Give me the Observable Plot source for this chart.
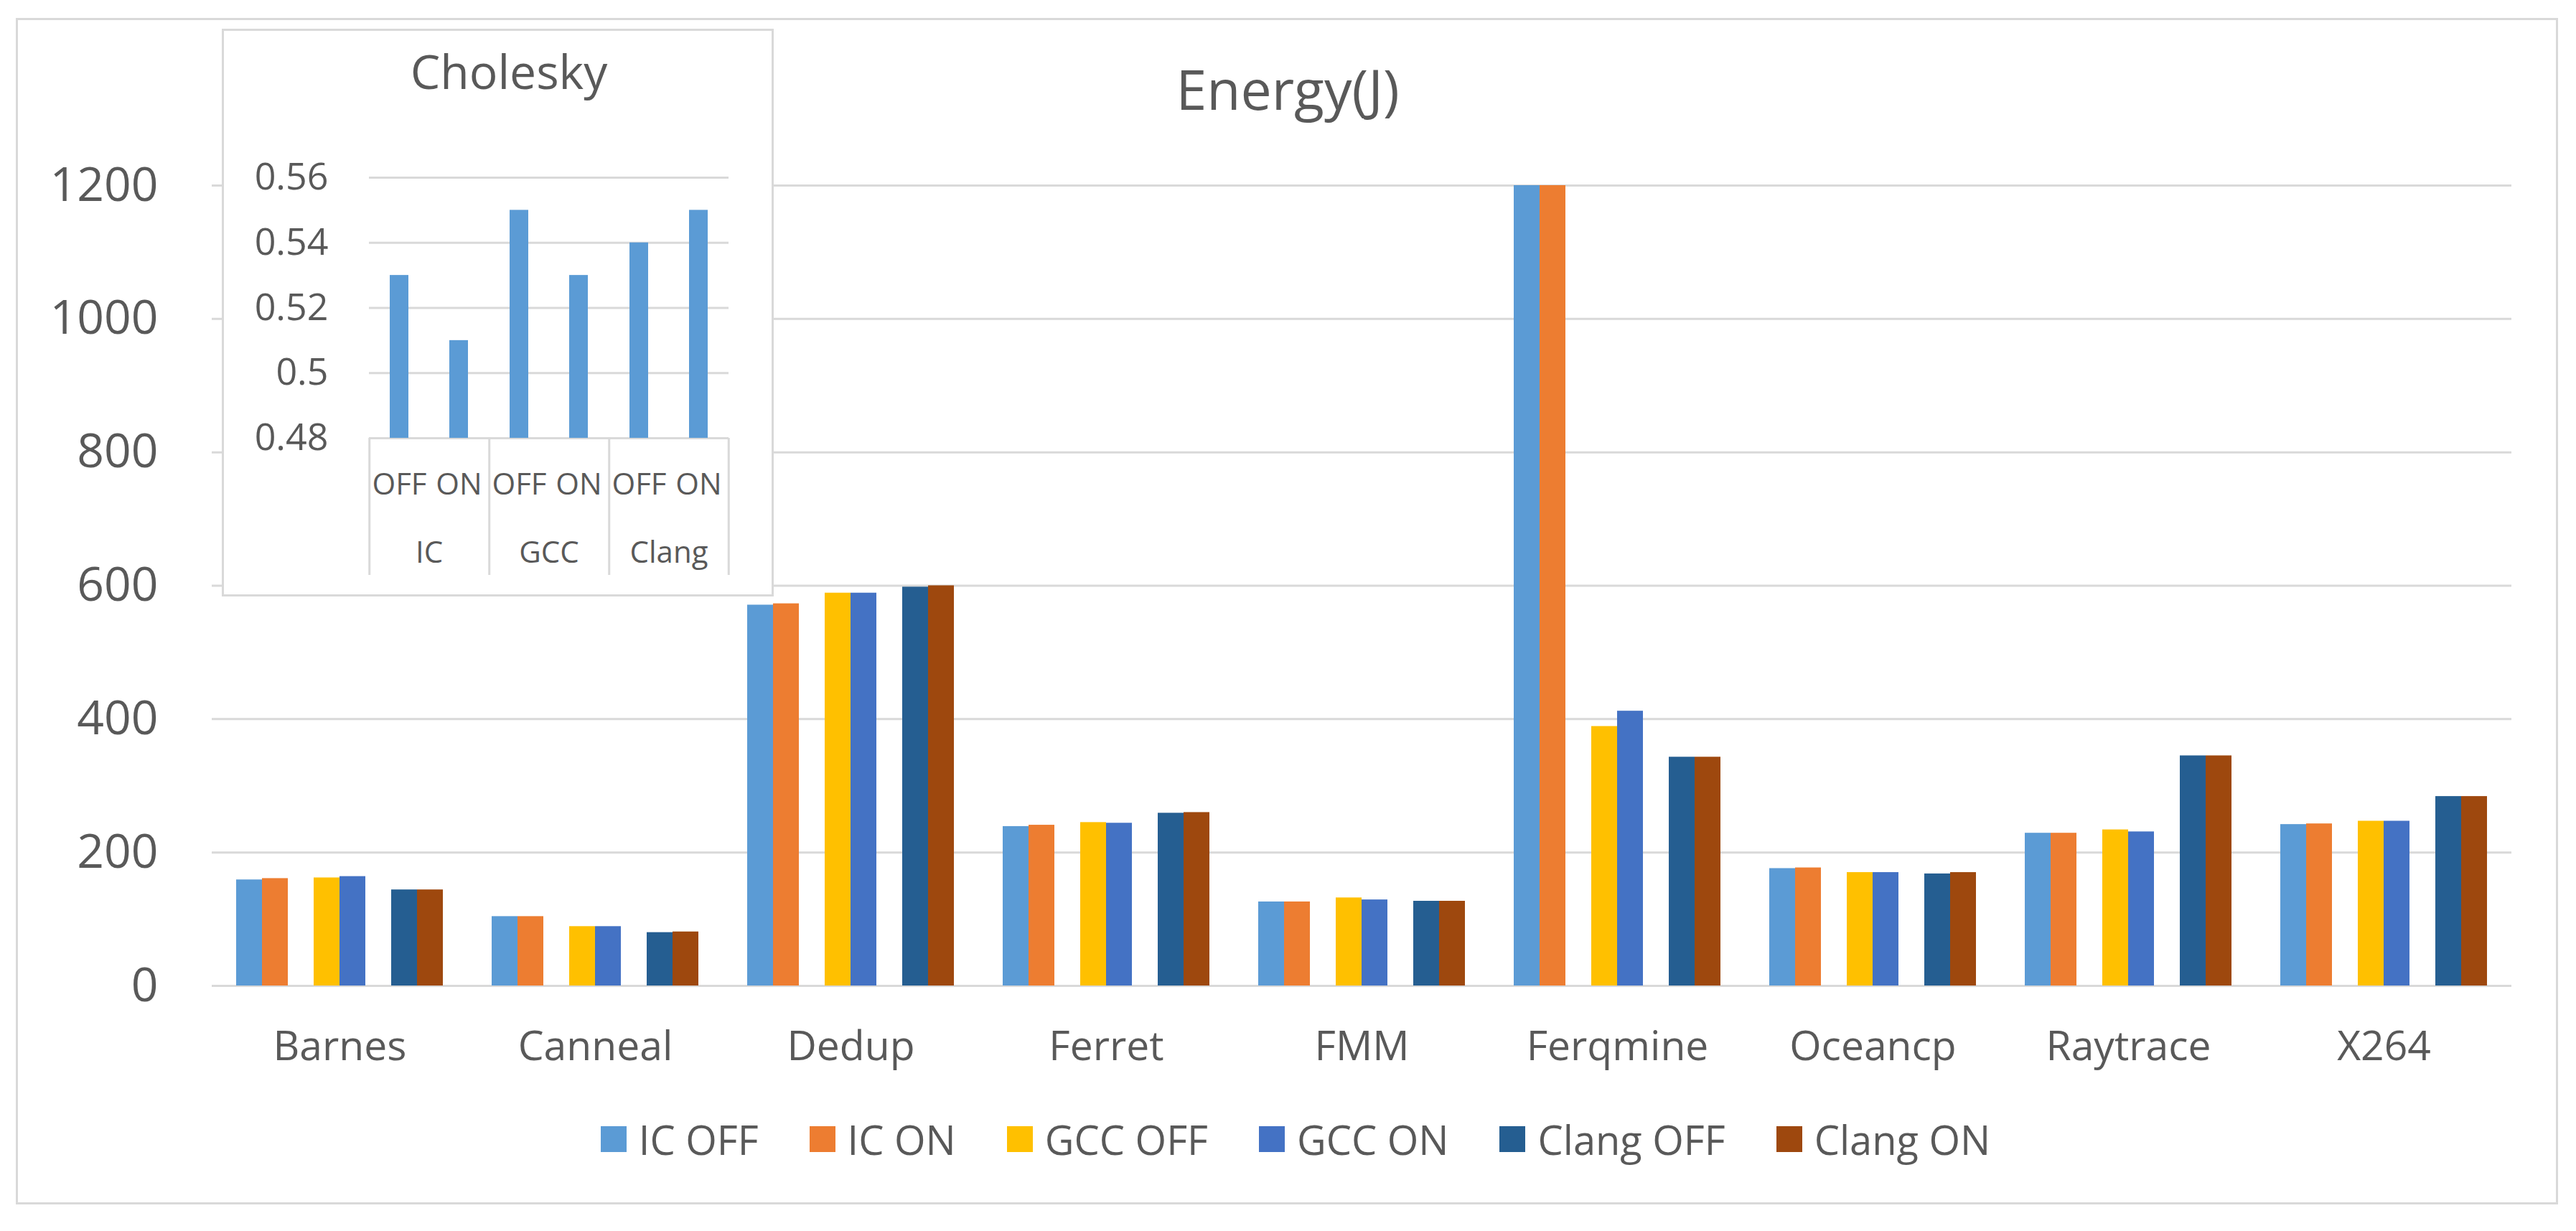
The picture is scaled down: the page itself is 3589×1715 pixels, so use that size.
<!DOCTYPE html>
<html>
<head>
<meta charset="utf-8">
<script src="https://cdn.jsdelivr.net/npm/d3@7"></script>
<script src="https://cdn.jsdelivr.net/npm/@observablehq/plot@0.6"></script>
<style>
  html, body { margin: 0; padding: 0; background: #fff; }
  #wrap { position: relative; width: 3589px; height: 1715px; overflow: hidden; font-family: "Open Sans", sans-serif; color: #595959; }
  #border { position: absolute; left: 22px; top: 25px; width: 3542px; height: 1653px; box-sizing: border-box; border: 3px solid #D9D9D9; }
  #main { position: absolute; left: 0; top: 0; }
  #title { position: absolute; top: 71px; left: 1794px; transform: translateX(-50%); font-size: 77px; line-height: normal; white-space: nowrap; }
  #inset { position: absolute; left: 312px; top: 43px; width: 763px; height: 785px; background: #fff; outline: 3px solid #D9D9D9; }
  #inset svg { position: absolute; left: 0; top: 0; }
  #insetTitle { position: absolute; top: 10px; left: 397px; transform: translateX(-50%); font-size: 66px; line-height: normal; white-space: nowrap; }
  #legend { position: absolute; left: 0; width: 3610px; top: 1549px; display: flex; justify-content: center; align-items: center; gap: 71px; font-size: 56px; line-height: normal; }
  .item { display: flex; align-items: center; white-space: nowrap; }
  .sw { width: 36px; height: 36px; margin-right: 17px; }
</style>
</head>
<body>
<div id="wrap">
  <div id="border"></div>
  <div id="main"></div>
  <div id="title">Energy(J)</div>
  <div id="legend"></div>
  <div id="inset"><div id="insetTitle">Cholesky</div></div>
</div>
<script>
// ---- main chart data ----
const categories = ["Barnes", "Canneal", "Dedup", "Ferret", "FMM", "Ferqmine", "Oceancp", "Raytrace", "X264"];
const seriesNames = ["IC OFF", "IC ON", "GCC OFF", "GCC ON", "Clang OFF", "Clang ON"];
const seriesColors = ["#5B9BD5", "#ED7D31", "#FFC000", "#4472C4", "#255E91", "#9E480E"];
const icOff    = [159, 104, 571, 239, 126, 1200, 176, 229, 242];
const icOn     = [161, 104, 573, 241, 126, 1200, 177, 229, 243];
const gccOff   = [162,  89, 589, 245, 132,  389, 170, 234, 247];
const gccOn    = [164,  89, 589, 244, 129,  412, 170, 231, 247];
const clangOff = [144,  80, 598, 259, 127,  343, 168, 345, 284];
const clangOn  = [144,  81, 600, 260, 127,  343, 170, 345, 284];
const yTicks = [0, 200, 400, 600, 800, 1000, 1200];
const slotDomain = ["IC OFF", "IC ON", "gap1", "GCC OFF", "GCC ON", "gap2", "Clang OFF", "Clang ON"];

// ---- inset (Cholesky) data ----
const insetGroups = ["IC", "GCC", "Clang"];
const insetStates = ["OFF", "ON"];
const insetValues = [0.53, 0.51, 0.55, 0.53, 0.54, 0.55];
const insetTicks = [0.48, 0.5, 0.52, 0.54, 0.56];

const seriesValues = [icOff, icOn, gccOff, gccOn, clangOff, clangOn];
const rows = [];
seriesValues.forEach((vals, si) => vals.forEach((v, ci) => rows.push({category: categories[ci], series: seriesNames[si], value: v})));

const main = Plot.plot({
  width: 3589,
  height: 1530,
  marginLeft: 293,
  marginRight: 87,
  marginTop: 258,
  marginBottom: 157,
  style: {fontFamily: "Open Sans, sans-serif", color: "#595959", background: "transparent", overflow: "visible"},
  fx: {domain: categories, paddingInner: 0.19, paddingOuter: 0.095, label: null, axis: null},
  x: {domain: slotDomain, padding: 0, axis: null},
  y: {domain: [0, 1200], axis: null},
  color: {domain: seriesNames, range: seriesColors},
  marks: [
    Plot.ruleY(yTicks, {stroke: "#D9D9D9", strokeWidth: 3, insetLeft: -34, insetRight: -34}),
    Plot.barY(rows, {fx: "category", x: "series", y: "value", fill: "series"}),
    Plot.axisY(yTicks, {tickSize: 0, tickPadding: 109, fontSize: 66, label: null, fill: "#595959", tickFormat: d => String(d)}),
    Plot.axisFx({anchor: "bottom", tickSize: 0, tickPadding: 63, fontSize: 57, label: null, fill: "#595959"})
  ]
});
document.getElementById("main").appendChild(main);

// legend
const legend = document.getElementById("legend");
seriesNames.forEach((name, i) => {
  const item = document.createElement("div");
  item.className = "item";
  const sw = document.createElement("div");
  sw.className = "sw";
  sw.style.background = seriesColors[i];
  const lab = document.createElement("span");
  lab.textContent = name;
  item.appendChild(sw);
  item.appendChild(lab);
  legend.appendChild(item);
});

// inset chart
const insetRows = insetValues.map((v, i) => ({group: insetGroups[Math.floor(i / 2)], state: insetStates[i % 2], value: v}));
const inset = Plot.plot({
  width: 763,
  height: 785,
  marginLeft: 202,
  marginRight: 60,
  marginTop: 204,
  marginBottom: 218,
  style: {fontFamily: "Open Sans, sans-serif", color: "#595959", background: "transparent", overflow: "visible"},
  fx: {domain: insetGroups, padding: 0, axis: null},
  x: {domain: insetStates, paddingInner: 0.689, paddingOuter: 0.3445, axis: null},
  y: {domain: [insetTicks[0], insetTicks[insetTicks.length - 1]], axis: null},
  marks: [
    Plot.ruleY(insetTicks, {stroke: "#D9D9D9", strokeWidth: 3}),
    Plot.barY(insetRows, {fx: "group", x: "state", y1: insetTicks[0], y2: "value", fill: "#5B9BD5"}),
    Plot.ruleX(insetRows.filter(d => d.state === "OFF"), {fx: "group", x: "state", dx: -41.75, stroke: "#D9D9D9", strokeWidth: 3, insetTop: 363, insetBottom: -191}),
    Plot.ruleX(insetRows.slice(-1), {fx: "group", x: "state", dx: 41.75, stroke: "#D9D9D9", strokeWidth: 3, insetTop: 363, insetBottom: -191}),
    Plot.axisY(insetTicks, {tickSize: 0, tickPadding: 57, fontSize: 52, label: null, fill: "#595959", tickFormat: d => String(+d.toFixed(2))}),
    Plot.axisX({anchor: "bottom", tickSize: 0, tickPadding: 49, fontSize: 42, label: null, fill: "#595959"}),
    Plot.axisFx({anchor: "bottom", tickSize: 0, tickPadding: 144, fontSize: 42, label: null, fill: "#595959"})
  ]
});
document.getElementById("inset").appendChild(inset);
</script>
</body>
</html>
